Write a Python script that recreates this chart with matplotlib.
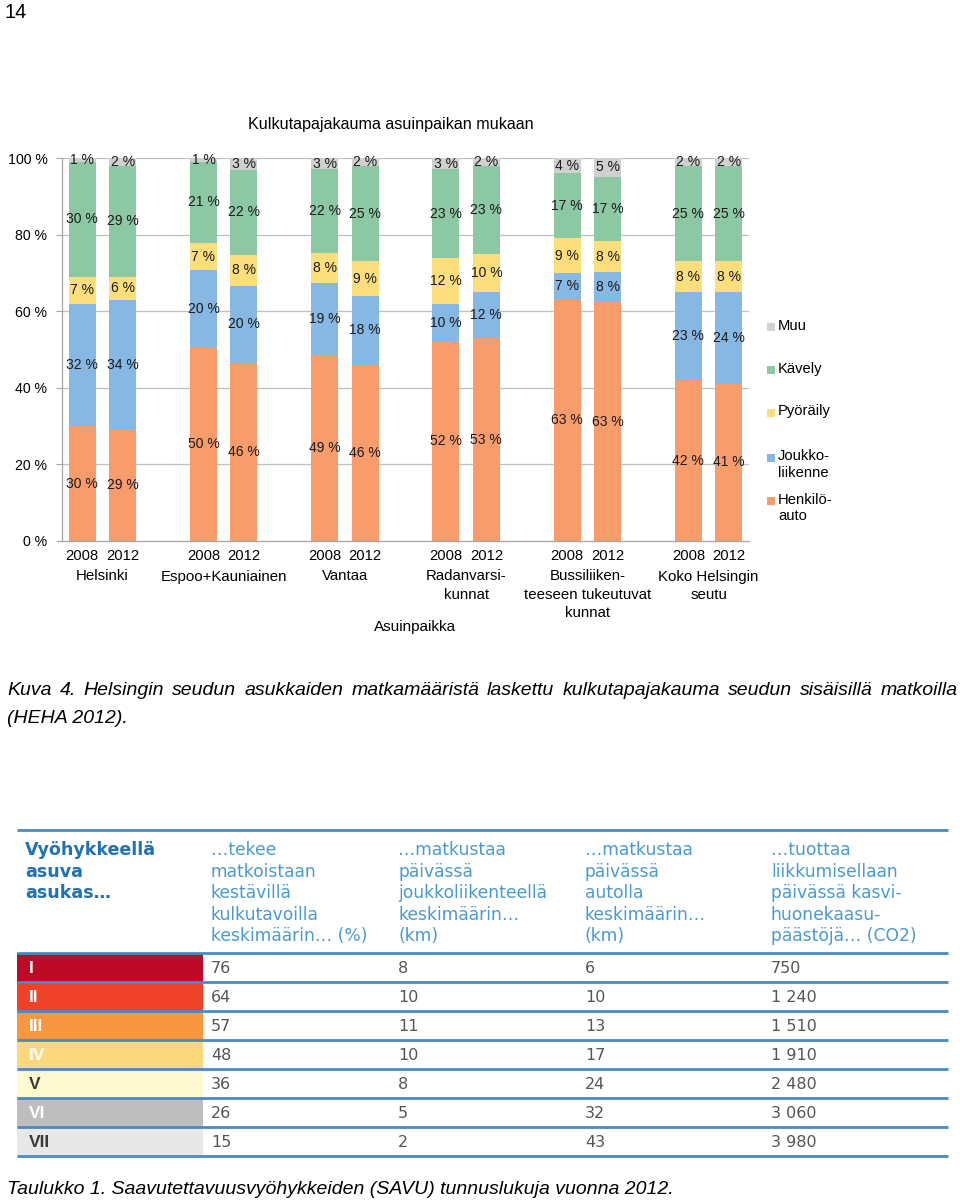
import matplotlib
matplotlib.use("Agg")
import matplotlib.pyplot as plt
from matplotlib.patches import Rectangle
from matplotlib.transforms import blended_transform_factory

# ------------------------------------------------------------------ data
groups = ["Helsinki", "Espoo+Kauniainen", "Vantaa", "Radanvarsi-\nkunnat",
          "Bussiliiken-\nteeseen tukeutuvat\nkunnat", "Koko Helsingin\nseutu"]
years = ["2008", "2012"]
series_names = ["Henkilöauto", "Joukkoliikenne", "Pyöräily", "Kävely", "Muu"]
henkiloauto = [30, 29, 50, 46, 49, 46, 52, 53, 63, 63, 42, 41]
joukkoliikenne = [32, 34, 20, 20, 19, 18, 10, 12, 7, 8, 23, 24]
pyoraily = [7, 6, 7, 8, 8, 9, 12, 10, 9, 8, 8, 8]
kavely = [30, 29, 21, 22, 22, 25, 23, 23, 17, 17, 25, 25]
muu = [1, 2, 1, 3, 3, 2, 3, 2, 4, 5, 2, 2]
legend_labels = ["Muu", "Kävely", "Pyöräily", "Joukko-\nliikenne", "Henkilö-\nauto"]
yticks = [0, 20, 40, 60, 80, 100]

zones = ["I", "II", "III", "IV", "V", "VI", "VII"]
kestava_pct = [76, 64, 57, 48, 36, 26, 15]
joukko_km = [8, 10, 11, 10, 8, 5, 2]
auto_km = [6, 10, 13, 17, 24, 32, 43]
co2 = [750, 1240, 1510, 1910, 2480, 3060, 3980]
table_headers = [
    "Vyöhykkeellä\nasuva\nasukas…",
    "…tekee\nmatkoistaan\nkestävillä\nkulkutavoilla\nkeskimäärin… (%)",
    "…matkustaa\npäivässä\njoukkoliikenteellä\nkeskimäärin…\n(km)",
    "…matkustaa\npäivässä\nautolla\nkeskimäärin…\n(km)",
    "…tuottaa\nliikkumisellaan\npäivässä kasvi-\nhuonekaasu-\npäästöjä… (CO2)",
]

# ------------------------------------------------------------------ styles
W, H = 960, 1201
seg_colors = ["#F89C6C", "#86B8E3", "#FCDE7C", "#8DC8A5", "#D0D0D0"]
zone_colors = ["#BD0A26", "#EF4229", "#F7973F", "#FCD87C", "#FEFAD0", "#BEBEBE", "#E8E8E8"]
zone_text = ["white", "white", "white", "white", "#3A3A3A", "white", "#3A3A3A"]
blue_line = "#4A8AC2"
ARIAL = "Liberation Sans"
TFONT = "DejaVu Sans"

fig = plt.figure(figsize=(W / 100, H / 100), dpi=100)
page = fig.add_axes([0, 0, 1, 1])
page.set_xlim(0, W)
page.set_ylim(H, 0)
page.axis("off")

# ------------------------------------------------------------------ chart
ax = fig.add_axes([62 / W, 1 - 541 / H, (749 - 62) / W, (541 - 158) / H])
ax.set_facecolor("none")
series = [henkiloauto, joukkoliikenne, pyoraily, kavely, muu]
n = len(henkiloauto)
xpos = [g * 3 + k for g in range(len(groups)) for k in range(len(years))]
totals = [sum(s[i] for s in series) for i in range(n)]
bottoms = [0.0] * n
for vals, col in zip(series, seg_colors):
    pct = [v / t * 100 for v, t in zip(vals, totals)]
    ax.bar(xpos, pct, bottom=bottoms, width=0.67, color=col, linewidth=0, zorder=2)
    for x, b, p, v in zip(xpos, bottoms, pct, vals):
        ax.text(x, b + p / 2, f"{v} %", ha="center", va="center", fontsize=10,
                family=ARIAL, color="#1a1a1a", zorder=3, clip_on=False)
    bottoms = [b + p for b, p in zip(bottoms, pct)]

ax.set_xlim(-0.5, 16.5)
ax.set_ylim(0, 100)
ax.set_yticks(yticks)
ax.set_yticklabels([f"{t} %" for t in yticks], family=ARIAL, fontsize=10.2)
ax.yaxis.grid(True, color="#BFBFBF", linewidth=0.9)
ax.set_axisbelow(True)
ax.tick_params(axis="y", length=4, width=0.8, color="#A6A6A6", pad=6.5)
ax.set_xticks(xpos)
ax.set_xticklabels([years[i % 2] for i in range(n)], family=ARIAL, fontsize=10.6)
ax.tick_params(axis="x", length=0, pad=5.5)
for side in ["top", "right"]:
    ax.spines[side].set_visible(False)
for side in ["left", "bottom"]:
    ax.spines[side].set_color("#A6A6A6")
    ax.spines[side].set_linewidth(0.9)

trans = blended_transform_factory(ax.transData, page.transData)
for g, name in enumerate(groups):
    ax.text(g * 3 + 0.5, 569.5, name, transform=trans, ha="center", va="top",
            fontsize=10.8, family=ARIAL, linespacing=1.4, clip_on=False)

page.text(415, 627, "Asuinpaikka", ha="center", va="center", fontsize=11, family=ARIAL)
page.text(391, 125, "Kulkutapajakauma asuinpaikan mukaan", ha="center", va="center",
          fontsize=11.6, family=ARIAL)

# legend
leg_y = [327, 370, 413, 458, 501]
leg_cols = seg_colors[::-1]
for y, lab, col in zip(leg_y, legend_labels, leg_cols):
    page.add_patch(Rectangle((767, y - 4), 8, 8, color=col, linewidth=0))
    page.text(778, y - 8.5, lab, ha="left", va="top", fontsize=10.6, family=ARIAL,
              linespacing=1.2)

# page number
page.text(5, 12, "14", ha="left", va="center", fontsize=14.5, family=ARIAL)

# ------------------------------------------------------------------ captions
def justified(text, x0, x1, ybase, **kw):
    words = text.split(" ")
    arts = [page.text(0, ybase, w, ha="left", va="baseline", **kw) for w in words]
    r = fig.canvas.get_renderer()
    widths = [a.get_window_extent(r).width for a in arts]
    gap = (x1 - x0 - sum(widths)) / (len(words) - 1)
    x = x0
    for a, w in zip(arts, widths):
        a.set_x(x)
        x += w + gap

cap_kw = dict(fontsize=14, family=ARIAL, style="italic")
justified("Kuva 4. Helsingin seudun asukkaiden matkamääristä laskettu kulkutapajakauma "
          "seudun sisäisillä matkoilla", 7, 958, 695, **cap_kw)
page.text(7, 723, "(HEHA 2012).", ha="left", va="baseline", **cap_kw)
page.text(7, 1194, "Taulukko 1. Saavutettavuusvyöhykkeiden (SAVU) tunnuslukuja vuonna 2012.",
          ha="left", va="baseline", **cap_kw)

# ------------------------------------------------------------------ table
tx0, tx1 = 17, 948
col_x = [25, 211, 398, 585, 771]
page.plot([tx0, tx1], [830, 830], color=blue_line, lw=2, solid_capstyle="butt")
for c, (hdr, x) in enumerate(zip(table_headers, col_x)):
    for i, line in enumerate(hdr.split("\n")):
        page.text(x, 855 + i * 21.6, line, ha="left", va="baseline",
                  fontsize=12.6 if c == 0 else 12.3, family=TFONT,
                  fontweight="bold" if c == 0 else "normal",
                  color="#2271B1" if c == 0 else "#4A9AD0")

row_top = 953
row_h = 29
page.plot([tx0, tx1], [row_top, row_top], color=blue_line, lw=2, solid_capstyle="butt")
for r in range(len(zones)):
    y0 = row_top + r * row_h
    page.add_patch(Rectangle((tx0, y0), 203 - tx0, row_h, color=zone_colors[r], linewidth=0))
    yc = y0 + row_h / 2
    page.text(29, yc + 5.5, zones[r], ha="left", va="baseline", fontsize=12.5,
              family=ARIAL, fontweight="bold", color=zone_text[r])
    vals = [str(kestava_pct[r]), str(joukko_km[r]), str(auto_km[r]),
            f"{co2[r]:,}".replace(",", " ")]
    for x, v in zip(col_x[1:], vals):
        page.text(x, yc + 5.5, v, ha="left", va="baseline", fontsize=11.5,
                  family=TFONT, color="#555555")
    page.plot([tx0, tx1], [y0 + row_h, y0 + row_h], color=blue_line, lw=2,
              solid_capstyle="butt")

fig.savefig("out.png", dpi=100)
